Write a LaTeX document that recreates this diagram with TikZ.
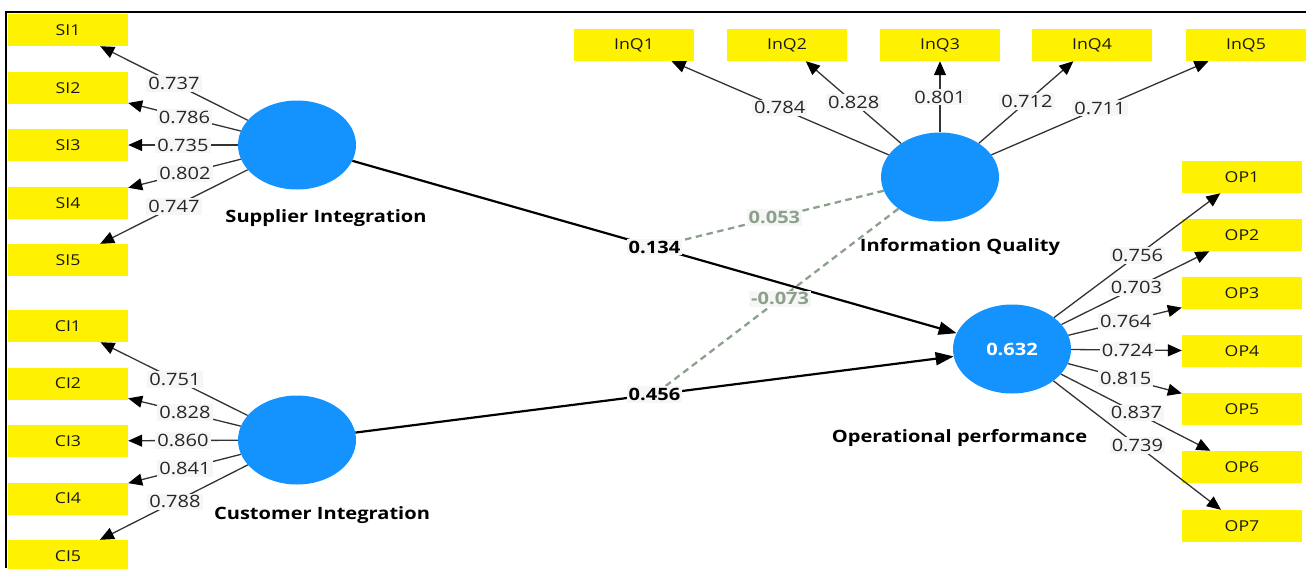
\documentclass[tikz,border=0pt]{standalone}
\usepackage{fontspec}
\setmainfont{Open Sans}[FakeStretch=1.18]
\usetikzlibrary{shapes.geometric,arrows.meta,calc}
\definecolor{latblue}{RGB}{20,147,255}
\definecolor{modgreen}{RGB}{140,160,140}
\definecolor{lblbg}{RGB}{246,246,246}
\begin{document}
\begin{tikzpicture}[x=1pt,y=-1pt,
  ind/.style={fill=yellow, minimum width=120pt, minimum height=32pt, inner sep=0pt, font=\fontsize{15}{15}\selectfont, text=black!90},
  lat/.style={ellipse, fill=latblue, minimum width=118pt, minimum height=89pt, inner sep=0pt},
  loadarrow/.style={draw=black!80, line width=1.3pt, -{Triangle[length=14pt,width=12pt,color=black]}},
  structarrow/.style={draw=black, line width=2.2pt, -{Triangle[length=18pt,width=13pt]}},
  modline/.style={draw=modgreen, line width=2.3pt, dash pattern=on 6.5pt off 4.5pt},
  lbl/.style={fill=lblbg, inner sep=2pt, font=\fontsize{17}{17}\selectfont, text=black!85},
  plbl/.style={fill=lblbg, inner sep=2pt, font=\fontsize{17}{17}\selectfont\bfseries, text=black},
  mlbl/.style={plbl, text=modgreen},
  latname/.style={font=\fontsize{17}{17}\selectfont\bfseries, text=black}
]
\useasboundingbox (0,0) rectangle (1306,568);
\draw[line width=2pt] (6,568) -- (6,11.5) -- (1306,11.5);

% indicators
\foreach \i/\y in {1/30,2/88,3/145,4/203,5/260}{
  \node[ind] (SI\i) at (68,\y) {SI\i};}
\foreach \i/\y in {1/326,2/383.5,3/441,4/498.5,5/556}{
  \node[ind] (CI\i) at (68,\y) {CI\i};}
\foreach \i/\x in {1/634,2/787,3/940,4/1092,5/1246}{
  \node[ind] (InQ\i) at (\x,45) {InQ\i};}
\foreach \i/\y in {1/177,2/235,3/293,4/351,5/409,6/467,7/526}{
  \node[ind] (OP\i) at (1242,\y) {OP\i};}

% latent variables
\node[lat] (SI) at (297,145) {};
\node[lat] (CI) at (297,440) {};
\node[lat] (IQ) at (940,177) {};
\node[lat, text=white, font=\fontsize{17}{17}\selectfont\bfseries] (OP) at (1012,349) {0.632};

\node[latname] (SIname) at (326,218) {Supplier Integration};
\node[latname] (CIname) at (322,515) {Customer Integration};
\node[latname] (IQname) at (960,247) {Information Quality};
\node[latname] (OPname) at (959.5,438) {Operational performance};

% loading arrows
\foreach \i in {1,...,5}{
  \draw[loadarrow] (SI) -- (SI\i);
  \draw[loadarrow] (CI) -- (CI\i);
  \draw[loadarrow] (IQ) -- (InQ\i);}
\foreach \i in {1,...,7}{
  \draw[loadarrow] (OP) -- (OP\i);}

% structural paths
\coordinate (m1) at ($(SI)!0.5!(OP)$);
\coordinate (m2) at ($(CI)!0.5!(OP)$);
\draw[modline] (IQ) -- (m1);
\draw[modline] (IQ) -- (m2);
\draw[structarrow] (SI) -- (OP);
\draw[structarrow] (CI) -- (OP);

% loading labels
\foreach \i/\v/\t in {1/0.737/0.537,2/0.786/0.491,3/0.735/0.498,4/0.802/0.489,5/0.747/0.537}{
  \node[lbl] (lSI\i) at ($(SI)!\t!(SI\i)$) {\v};}
\foreach \i/\v/\t in {1/0.751/0.533,2/0.828/0.489,3/0.860/0.498,4/0.841/0.489,5/0.788/0.533}{
  \node[lbl] (lCI\i) at ($(CI)!\t!(CI\i)$) {\v};}
\foreach \i/\v/\t in {1/0.784/0.524,2/0.828/0.564,3/0.801/0.606,4/0.712/0.572,5/0.711/0.523}{
  \node[lbl] (lIQ\i) at ($(IQ)!\t!(InQ\i)$) {\v};}
\foreach \i/\v/\t in {1/0.756/0.545,2/0.703/0.541,3/0.764/0.494,4/0.724/0.502,5/0.815/0.494,6/0.837/0.541,7/0.739/0.545}{
  \node[lbl] (lOP\i) at ($(OP)!\t!(OP\i)$) {\v};}

% path labels
\node[plbl] (p1) at (m1) {0.134};
\node[plbl] (p2) at (m2) {0.456};
\node[mlbl] (p3) at ($(IQ)!0.58!(m1)$) {0.053};
\node[mlbl] (p4) at ($(IQ)!0.56!(m2)$) {-0.073};
\end{tikzpicture}
\end{document}
